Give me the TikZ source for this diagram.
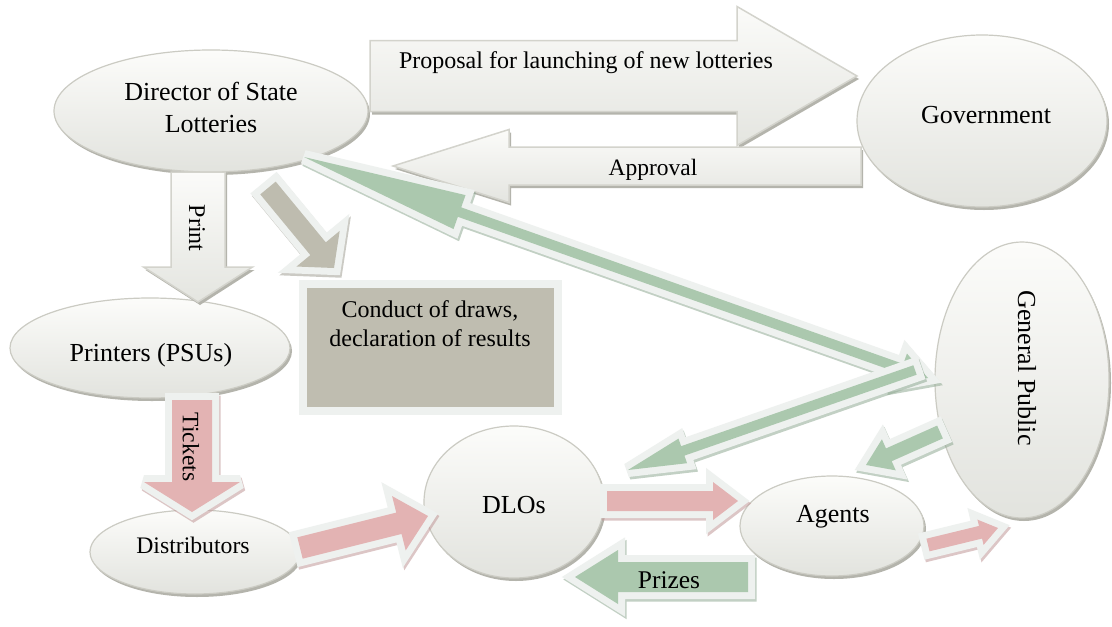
\documentclass[tikz,border=0pt]{standalone}
\usepackage{fontspec}
\setmainfont{Liberation Serif}
\usetikzlibrary{shapes.geometric,shadows,calc}

\definecolor{ellTop}{HTML}{FCFCFA}
\definecolor{ellBot}{HTML}{E2E3DE}
\definecolor{ellLine}{HTML}{CBCBC3}
\definecolor{garTop}{HTML}{FBFBF9}
\definecolor{garBot}{HTML}{E4E5E0}
\definecolor{garLine}{HTML}{D3D3CC}
\definecolor{shadowgray}{HTML}{B4B4AC}
\definecolor{greenc}{HTML}{ABC8AE}
\definecolor{pinkc}{HTML}{E3B3B3}
\definecolor{brownc}{HTML}{BEBCAF}
\definecolor{outl}{HTML}{EEF1EF}
\definecolor{boxfill}{HTML}{BFBDB0}

% single block arrow: style, tail, tip, shaft half width, head half width, head length
\newcommand\blockarr[6]{%
  \path[#1] ($(#2)!#4!90:(#3)$)
    -- ($(#3)!#6!(#2)!#4!90:(#3)$)
    -- ($(#3)!#6!(#2)!#5!90:(#3)$)
    -- (#3)
    -- ($(#3)!#6!(#2)!#5!-90:(#3)$)
    -- ($(#3)!#6!(#2)!#4!-90:(#3)$)
    -- ($(#2)!#4!-90:(#3)$) -- cycle;}
% double block arrow: style, A, B, shaft half, head half A, head len A, head half B, head len B
\newcommand\dblarr[8]{%
  \path[#1] (#2)
    -- ($(#2)!#6!(#3)!#5!90:(#3)$)
    -- ($(#2)!#6!(#3)!#4!90:(#3)$)
    -- ($(#3)!#8!(#2)!#4!90:(#3)$)
    -- ($(#3)!#8!(#2)!#7!90:(#3)$)
    -- (#3)
    -- ($(#3)!#8!(#2)!#7!-90:(#3)$)
    -- ($(#3)!#8!(#2)!#4!-90:(#3)$)
    -- ($(#2)!#6!(#3)!#4!-90:(#3)$)
    -- ($(#2)!#6!(#3)!#5!-90:(#3)$)
    -- cycle;}

\tikzset{
  gshadow/.style={drop shadow={shadow xshift=2pt, shadow yshift=-3pt, shadow scale=1, fill=shadowgray, opacity=1}},
  ell/.style={ellipse, draw=ellLine, line width=1.2pt, top color=ellTop, bottom color=ellBot, gshadow, inner sep=0pt},
  grayarr/.style={draw=garLine, line width=1.5pt, top color=garTop, bottom color=garBot, gshadow, line join=miter},
  colarr/.style={fill=#1,
    drop shadow={shadow xshift=1.5pt, shadow yshift=-2.5pt, shadow scale=1, draw=#1!85!black, fill=#1!85!black, line width=14pt, line join=miter, miter limit=3, opacity=.55},
    preaction={draw=outl, line width=14pt, line join=miter, miter limit=3}},
  boxst/.style={rectangle, fill=boxfill, draw=outl, line width=8pt,
    drop shadow={shadow xshift=2pt, shadow yshift=-4pt, shadow scale=1, fill=shadowgray, opacity=1}},
  lbl/.style={font=\fontsize{26}{32}\selectfont, align=center, inner sep=0pt},
  albl/.style={font=\fontsize{23.5}{28}\selectfont, align=center, inner sep=0pt},
}

\begin{document}
\begin{tikzpicture}[x=1pt,y=-1pt]
\useasboundingbox (0,0) rectangle (1112,627);
\fill[white] (0,0) rectangle (1112,627);

% ellipses
\node[ell, minimum width=314pt, minimum height=122pt] (dir) at (211,111) {};
\node[ell, minimum width=250pt, minimum height=172pt] (gov) at (982,121) {};
\node[ell, minimum width=280pt, minimum height=100pt] (prn) at (150,348) {};
\node[ell, minimum width=210pt, minimum height=84pt] (dist) at (195,552) {};
\node[ell, minimum width=180pt, minimum height=152pt] (dlo) at (514,502) {};
\node[ell, minimum width=184pt, minimum height=100pt] (agt) at (832,526) {};
\node[ell, minimum width=174pt, minimum height=276pt] (pub) at (1022,380) {};

% box
\node[boxst, minimum width=255pt, minimum height=127pt] (draws) at (430.5,347.5) {};

% grey block arrows
\coordinate (prop-a) at (370,76);  \coordinate (prop-b) at (857,76);
\blockarr{grayarr}{prop-a}{prop-b}{35.5pt}{69.5pt}{120pt}
\coordinate (appr-a) at (861,166); \coordinate (appr-b) at (393,166);
\blockarr{grayarr}{appr-a}{appr-b}{19pt}{36.5pt}{116pt}
\coordinate (print-a) at (198,172); \coordinate (print-b) at (198,302);
\blockarr{grayarr}{print-a}{print-b}{27pt}{54.5pt}{35pt}

% coloured block arrows
\coordinate (cond-a) at (268,188); \coordinate (cond-b) at (334,268);
\blockarr{colarr=brownc}{cond-a}{cond-b}{10pt}{28pt}{25pt}
\coordinate (tick-a) at (192,400); \coordinate (tick-b) at (192,512);
\blockarr{colarr=pinkc}{tick-a}{tick-b}{20pt}{48pt}{30pt}
\coordinate (dd-a) at (300,548); \coordinate (dd-b) at (428,516);
\blockarr{colarr=pinkc}{dd-a}{dd-b}{11pt}{28pt}{30pt}
\coordinate (da-a) at (607,501); \coordinate (da-b) at (738,501);
\blockarr{colarr=pinkc}{da-a}{da-b}{10pt}{19pt}{25pt}
\coordinate (ap-a) at (928,545); \coordinate (ap-b) at (998,528);
\blockarr{colarr=pinkc}{ap-a}{ap-b}{6.5pt}{13pt}{18pt}
\coordinate (long-a) at (304,157); \coordinate (long-b) at (928,378);
\dblarr{colarr=greenc}{long-a}{long-b}{5pt}{18pt}{165pt}{16pt}{28pt}
\coordinate (pd-a) at (915,370); \coordinate (pd-b) at (628,470);
\blockarr{colarr=greenc}{pd-a}{pd-b}{5pt}{13pt}{58pt}
\coordinate (pa-a) at (940,432); \coordinate (pa-b) at (866,465);
\blockarr{colarr=greenc}{pa-a}{pa-b}{7pt}{17pt}{25pt}
\coordinate (prz-a) at (748,577); \coordinate (prz-b) at (575,577);
\blockarr{colarr=greenc}{prz-a}{prz-b}{15pt}{27pt}{43pt}

% labels
\node[lbl] (dirl) at (211,107) {Director of State\\Lotteries};
\node[lbl, anchor=base] (govl) at (986,123) {Government};
\node[lbl, anchor=base] (prnl) at (151,361) {Printers (PSUs)};
\node[lbl, anchor=base, font=\fontsize{23.7}{28}\selectfont] (distl) at (193,553) {Distributors};
\node[lbl, anchor=base] (dlol) at (514,513) {DLOs};
\node[lbl, anchor=base] (agtl) at (833,522) {Agents};
\node[lbl, rotate=-90] (publ) at (1027,368) {General Public};
\node[lbl, font=\fontsize{24}{29}\selectfont] (drawsl) at (430,324) {Conduct of draws,\\declaration of results};
\node[albl, anchor=base, font=\fontsize{24}{28}\selectfont] (propl) at (586,68) {Proposal for launching of new lotteries};
\node[albl, anchor=base] (apprl) at (653,175) {Approval};
\node[albl, rotate=-90, font=\fontsize{24}{28}\selectfont] (printl) at (197,228) {Print};
\node[albl, rotate=-90] (tickl) at (191,447) {Tickets};
\node[lbl, anchor=base, font=\fontsize{25.5}{30}\selectfont] (prizl) at (669,588) {Prizes};
\end{tikzpicture}
\end{document}
